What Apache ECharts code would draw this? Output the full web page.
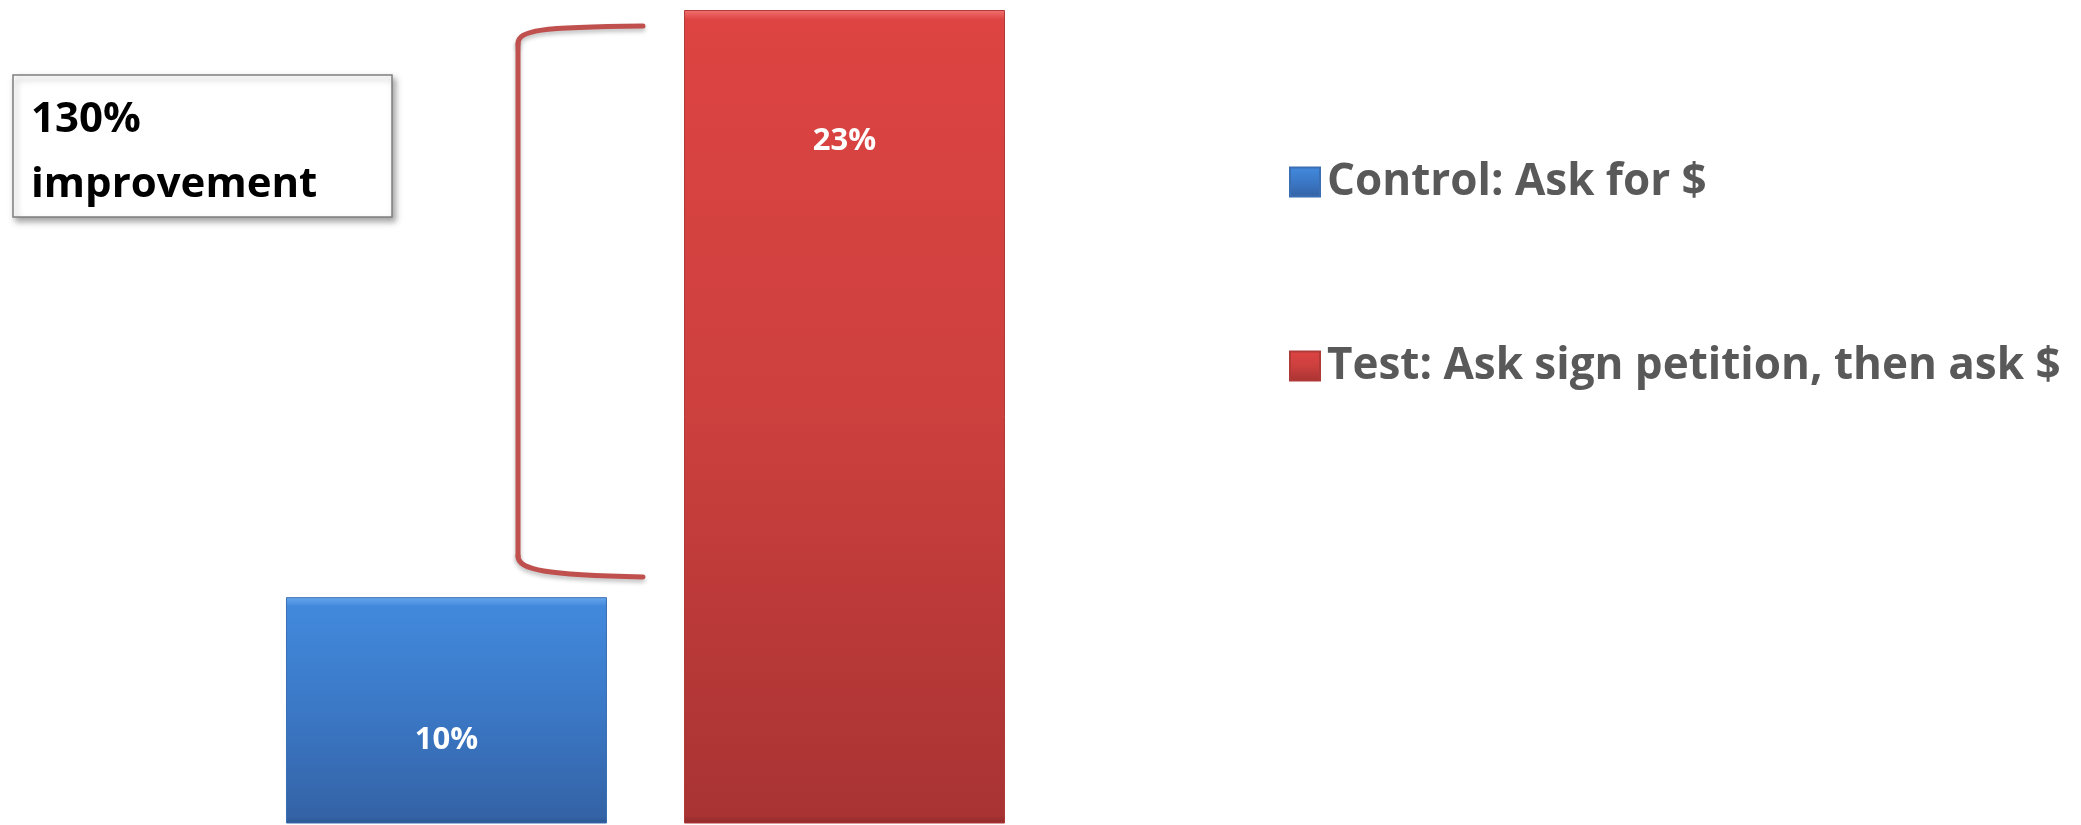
<!DOCTYPE html>
<html>
<head>
<meta charset="utf-8">
<script src="https://cdn.jsdelivr.net/npm/echarts@6/dist/echarts.min.js"></script>
<style>
html,body{margin:0;padding:0;background:#fff;}
#c{width:2081px;height:825px;}
</style>
</head>
<body>
<div id="c"></div>
<script>
const categories = [''];
const seriesNames = ['Control: Ask for $', 'Test: Ask sign petition, then ask $'];
const controlValues = [10];
const testValues = [23];
const annotationLines = ['130%', 'improvement'];

const chart = echarts.init(document.getElementById('c'));
const FONT = '"Open Sans"';

function grad(stops) {
  return {
    type: 'linear', x: 0, y: 0, x2: 0, y2: 1,
    colorStops: stops.map(s => ({offset: s[0], color: s[1]}))
  };
}

const bracketStyle = {fill: 'none', stroke: '#c0504d', lineWidth: 5, lineCap: 'round', shadowColor: 'rgba(0,0,0,0.25)', shadowBlur: 4, shadowOffsetY: 3};

const option = {
  backgroundColor: '#ffffff',
  animation: false,
  grid: {left: 0, right: 790, top: 10, bottom: 2, containLabel: false},
  xAxis: {type: 'category', data: categories, show: false},
  yAxis: {type: 'value', min: 5, max: 23, show: false},
  legend: {
    orient: 'vertical',
    left: 1284,
    top: 155,
    itemWidth: 30,
    itemHeight: 29,
    itemGap: 140,
    icon: 'rect',
    textStyle: {fontFamily: FONT, fontWeight: 'bold', fontSize: 44, color: '#595959', lineHeight: 40, padding: [0,0,0,2]},
    data: seriesNames
  },
  series: [
    {
      name: seriesNames[0],
      type: 'bar',
      data: controlValues,
      barWidth: 321,
      barGap: '24%',
      itemStyle: {color: grad([[0, '#6aa8ee'], [0.04, '#4289dc'], [0.5, '#3b78c6'], [0.97, '#3463a6'], [1, '#2d5690']]), borderColor: '#3a6fb3', borderWidth: 1},
      label: {show: true, position: 'insideTop', distance: 128, formatter: '{c}%', color: '#ffffff', fontFamily: FONT, fontWeight: 'bold', fontSize: 31}
    },
    {
      name: seriesNames[1],
      type: 'bar',
      data: testValues,
      barWidth: 321,
      itemStyle: {color: grad([[0, '#f07270'], [0.012, '#dd4442'], [0.5, '#cc403e'], [0.99, '#a93333'], [1, '#8f2a2a']]), borderColor: '#b03a38', borderWidth: 1},
      label: {show: true, position: 'insideTop', distance: 116, formatter: '{c}%', color: '#ffffff', fontFamily: FONT, fontWeight: 'bold', fontSize: 31}
    }
  ],
  graphic: [
    {
      type: 'rect',
      shape: {x: 13, y: 75, width: 379, height: 142},
      style: {fill: '#ffffff', stroke: '#7f7f7f', lineWidth: 1.5, shadowColor: 'rgba(0,0,0,0.35)', shadowBlur: 6, shadowOffsetX: 3, shadowOffsetY: 4},
      z: 10
    },
    {
      type: 'text',
      x: 31, y: 88,
      style: {text: annotationLines.join('\n'), fill: '#000000', font: 'bold 42px "Open Sans"', lineHeight: 65},
      z: 11
    },
    {
      type: 'bezierCurve',
      shape: {x1: 643, y1: 26, x2: 518, y2: 44, cpx1: 540, cpy1: 27, cpx2: 518, cpy2: 30},
      style: bracketStyle, z: 10
    },
    {
      type: 'line',
      shape: {x1: 518, y1: 44, x2: 518, y2: 556},
      style: bracketStyle, z: 10
    },
    {
      type: 'bezierCurve',
      shape: {x1: 518, y1: 556, x2: 643, y2: 577, cpx1: 518, cpy1: 570, cpx2: 545, cpy2: 575},
      style: bracketStyle, z: 10
    }
  ]
};
chart.setOption(option);
</script>
</body>
</html>
